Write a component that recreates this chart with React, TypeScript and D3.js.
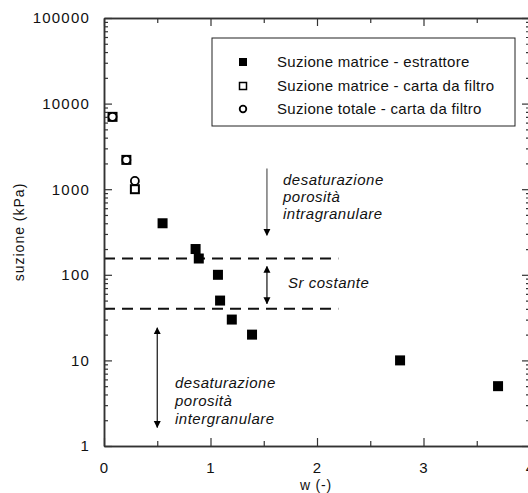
import React, { useEffect, useRef } from 'react';
import * as d3 from 'd3';

// Suzione matrice - estrattore
const estrattoreW = [0.55, 0.86, 0.89, 1.07, 1.09, 1.2, 1.39, 2.78, 3.7];
const estrattoreS = [400, 200, 155, 100, 50, 30, 20, 10, 5];
// Suzione matrice - carta da filtro
const matriceFiltroW = [0.08, 0.21, 0.29];
const matriceFiltroS = [7000, 2200, 1000];
// Suzione totale - carta da filtro
const totaleFiltroW = [0.08, 0.21, 0.29];
const totaleFiltroS = [7000, 2200, 1250];

const legendLabels = [
  'Suzione matrice - estrattore',
  'Suzione matrice - carta da filtro',
  'Suzione totale - carta da filtro',
];

const yDecades = [1, 10, 100, 1000, 10000, 100000];
const xMajor = [0, 1, 2, 3, 4];
const xMinor = [0.5, 1.5, 2.5, 3.5];

// Sr costante band limits
const dashLevels = [155, 40];
const dashExtent = [0, 2.2];

// arrows: w, from, to, double headed
const arrowW = [1.53, 1.53, 0.5];
const arrowFrom = [1750, 125, 24];
const arrowTo = [290, 46, 1.65];
const arrowDouble = [false, true, true];

const W = 528;
const H = 493;
const margin = { top: 18, right: -2, bottom: 47, left: 104 };

const App = () => {
  const axRef = useRef<SVGGElement>(null);

  const x = d3.scaleLinear().domain([0, 4]).range([margin.left, W - margin.right]);
  const y = d3.scaleLog().domain([1, 100000]).range([H - margin.bottom, margin.top]);

  const yMinor: number[] = [];
  yDecades.slice(0, -1).forEach(d => {
    for (let k = 2; k <= 9; k++) yMinor.push(d * k);
  });

  useEffect(() => {
    const g = d3.select(axRef.current);
    g.selectAll('*').remove();
    const [y0, y1] = y.range();

    const style = (sel: any) => {
      sel.selectAll('.domain').attr('stroke', '#333').attr('stroke-width', 1.5);
      sel.selectAll('.tick line').attr('stroke', '#333').attr('stroke-width', 1.2);
      sel.selectAll('text')
        .attr('fill', '#111')
        .style('font-family', 'Arial, "Liberation Sans", sans-serif')
        .style('font-size', '15px')
        .style('letter-spacing', '1.2px');
    };

    // bottom
    g.append('g').attr('transform', `translate(0,${y0})`)
      .call(d3.axisBottom(x).tickValues(xMajor).tickSizeInner(-8).tickSizeOuter(0).tickPadding(16).tickFormat(d3.format('d')))
      .call(style);
    g.append('g').attr('transform', `translate(0,${y0})`)
      .call(d3.axisBottom(x).tickValues(xMinor).tickSizeInner(-5).tickSizeOuter(0).tickFormat(() => ''))
      .call(style);
    // top
    g.append('g').attr('transform', `translate(0,${y1})`)
      .call(d3.axisTop(x).tickValues(xMajor).tickSizeInner(-8).tickSizeOuter(0).tickFormat(() => ''))
      .call(style);
    g.append('g').attr('transform', `translate(0,${y1})`)
      .call(d3.axisTop(x).tickValues(xMinor).tickSizeInner(-5).tickSizeOuter(0).tickFormat(() => ''))
      .call(style);
    // left
    g.append('g').attr('transform', `translate(${margin.left},0)`)
      .call(d3.axisLeft(y).tickValues(yDecades).tickSizeInner(-8).tickSizeOuter(0).tickPadding(14).tickFormat(d3.format('d')))
      .call(style);
    g.append('g').attr('transform', `translate(${margin.left},0)`)
      .call(d3.axisLeft(y).tickValues(yMinor).tickSizeInner(-4).tickSizeOuter(0).tickFormat(() => ''))
      .call(style);
    // right
    g.append('g').attr('transform', `translate(${W - margin.right},0)`)
      .call(d3.axisRight(y).tickValues(yDecades).tickSizeInner(-8).tickSizeOuter(0).tickFormat(() => ''))
      .call(style);
    g.append('g').attr('transform', `translate(${W - margin.right},0)`)
      .call(d3.axisRight(y).tickValues(yMinor).tickSizeInner(-4).tickSizeOuter(0).tickFormat(() => ''))
      .call(style);
  }, []);

  const sq = 10;
  const font = 'Arial, "Liberation Sans", sans-serif';

  return (
    <svg width={W} height={H} style={{ position: 'absolute', left: 0, top: 0 }} fontFamily={font}>
      <defs>
        <marker id="ah" viewBox="0 0 10 10" refX="9" refY="5" markerWidth="7" markerHeight="8" orient="auto-start-reverse" markerUnits="userSpaceOnUse">
          <path d="M0,0 L10,5 L0,10 Z" fill="#000" />
        </marker>
      </defs>
      <rect x={0} y={0} width={W} height={H} fill="#fff" />

      {dashLevels.map((v, i) => (
        <line key={'d' + i} x1={x(dashExtent[0])} x2={x(dashExtent[1])} y1={y(v)} y2={y(v)}
          stroke="#111" strokeWidth={2} strokeDasharray="11,7" />
      ))}

      {arrowW.map((w, i) => (
        <line key={'a' + i} x1={x(w)} x2={x(w)} y1={y(arrowFrom[i])} y2={y(arrowTo[i])}
          stroke={i === 0 ? '#555' : '#111'} strokeWidth={1.2}
          markerEnd="url(#ah)" markerStart={arrowDouble[i] ? 'url(#ah)' : undefined} />
      ))}

      <g fontStyle="italic" fontSize={15} fill="#111" letterSpacing={0.5}>
        <text x={283} y={185}>desaturazione</text>
        <text x={283} y={202}>porosità</text>
        <text x={283} y={219}>intragranulare</text>
        <text x={288} y={288}>Sr costante</text>
        <text x={175} y={388}>desaturazione</text>
        <text x={175} y={406}>porosità</text>
        <text x={175} y={424}>intergranulare</text>
      </g>

      {estrattoreW.map((w, i) => (
        <rect key={'e' + i} x={x(w) - sq / 2} y={y(estrattoreS[i]) - sq / 2} width={sq} height={sq} fill="#000" />
      ))}
      {matriceFiltroW.map((w, i) => (
        <rect key={'m' + i} x={x(w) - sq / 2 + 1} y={y(matriceFiltroS[i]) - sq / 2 + 1} width={sq - 2} height={sq - 2}
          fill="#fff" stroke="#000" strokeWidth={2} />
      ))}
      {totaleFiltroW.map((w, i) => (
        <circle key={'t' + i} cx={x(w)} cy={y(totaleFiltroS[i])} r={4} fill="#fff" stroke="#000" strokeWidth={1.8} />
      ))}

      <g ref={axRef} />

      <g>
        <rect x={212} y={38} width={303} height={88} fill="#fff" stroke="#222" strokeWidth={1} />
        <rect x={239} y={58} width={8} height={8} fill="#000" />
        <rect x={239.5} y={82.5} width={7} height={7} fill="#fff" stroke="#000" strokeWidth={1.5} />
        <circle cx={243} cy={109} r={3.3} fill="#fff" stroke="#000" strokeWidth={1.8} />
        {legendLabels.map((l, i) => (
          <text key={l} x={277} y={67 + i * 23.5} fontSize={15} fill="#111" letterSpacing={0.3}>{l}</text>
        ))}
      </g>

      <text transform="translate(24,232) rotate(-90)" textAnchor="middle" fontSize={14} fill="#111" letterSpacing={1}>suzione (kPa)</text>
      <text x={316} y={490} textAnchor="middle" fontSize={14} fill="#111" letterSpacing={0.8}>w (-)</text>
    </svg>
  );
};

export default App;
